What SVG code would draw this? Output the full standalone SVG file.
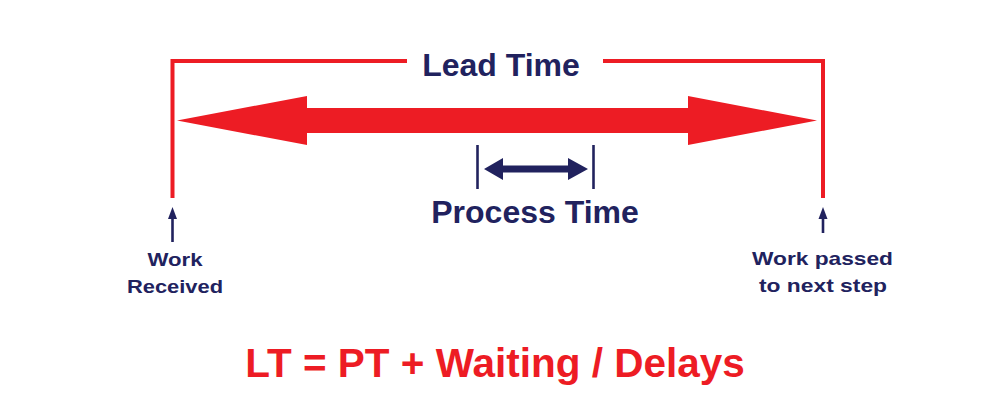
<svg xmlns="http://www.w3.org/2000/svg" width="988" height="413" viewBox="0 0 988 413">
<style>
.red{fill:#ED1C24}
.navy{fill:#21225E}
.rline{stroke:#ED1C24;stroke-width:4;fill:none}
.nline{stroke:#21225E;stroke-width:2.6;fill:none}
.t{font-family:"Liberation Sans",Arial,sans-serif;font-weight:bold;text-anchor:middle}
.lbl{font-size:32px;fill:#21225E}
.small{font-size:19px;fill:#21225E}
.formula{font-size:40.5px;fill:#ED1C24}
</style>
<rect width="988" height="413" fill="#ffffff"/>
<g id="connectors">
  <path class="rline" d="M172.5,198 V61 H407"/>
  <path class="rline" d="M603,61 H823 V198"/>
  <polygon class="red" points="177,120.5 307,96 307,108 688,108 688,96 817,120.5 688,145 688,133 307,133 307,145"/>
  <line class="nline" x1="477.5" y1="145" x2="477.5" y2="189"/>
  <line class="nline" x1="593.5" y1="145" x2="593.5" y2="189"/>
  <polygon class="navy" points="484,169 503,158 503,165.5 568,165.5 568,158 588,169 568,180 568,172.5 503,172.5 503,180"/>
  <line class="nline" x1="172.5" y1="216" x2="172.5" y2="242"/>
  <polygon class="navy" points="172.5,207 168,219 177,219"/>
  <line class="nline" x1="823" y1="216" x2="823" y2="233"/>
  <polygon class="navy" points="823,207 818.5,219 827.5,219"/>
</g>
<g id="lead-time">
  <text class="t lbl" x="501" y="75.5">Lead Time</text>
</g>
<g id="process-time">
  <text class="t lbl" x="535" y="222.5">Process Time</text>
</g>
<g id="work-received">
  <text class="t small" x="175" y="266" textLength="55" lengthAdjust="spacingAndGlyphs">Work</text>
  <text class="t small" x="175" y="293" textLength="96" lengthAdjust="spacingAndGlyphs">Received</text>
</g>
<g id="work-passed">
  <text class="t small" x="822.5" y="265" textLength="141" lengthAdjust="spacingAndGlyphs">Work passed</text>
  <text class="t small" x="823" y="292" textLength="128" lengthAdjust="spacingAndGlyphs">to next step</text>
</g>
<g id="formula">
  <text class="t formula" x="495" y="377">LT = PT + Waiting / Delays</text>
</g>
</svg>
